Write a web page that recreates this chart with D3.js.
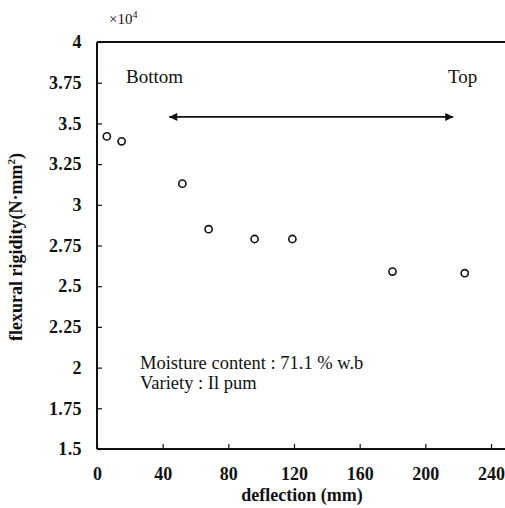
<!DOCTYPE html>
<html><head><meta charset="utf-8">
<script src="https://cdn.jsdelivr.net/npm/d3@7"></script>
<style>
html,body{margin:0;padding:0;background:#fff;}
text{font-family:"Liberation Serif","DejaVu Serif",serif;fill:#111;}
</style></head>
<body><svg id="chart" width="505" height="508"></svg>
<script>
// data
const deflection = [6, 15, 52, 68, 96, 119, 180, 224];
const rigidity = [3.42, 3.39, 3.13, 2.85, 2.79, 2.79, 2.59, 2.58];
const xTicks = [0, 40, 80, 120, 160, 200, 240];
const yTicks = [1.5, 1.75, 2, 2.25, 2.5, 2.75, 3, 3.25, 3.5, 3.75, 4];
const arrowRange = [44, 217];
const arrowLevel = 3.54;
const notes = ["Moisture content : 71.1 % w.b", "Variety : Il pum"];

const svg = d3.select("#chart");
const m = {left: 97, top: 42};
const W = 394, H = 407;
const x = d3.scaleLinear().domain([0, 240]).range([m.left, m.left + W]);
const y = d3.scaleLinear().domain([1.5, 4]).range([m.top + H, m.top]);

// frame lines (left, top, bottom)
svg.append("line").attr("x1", x(0)).attr("x2", x(0)).attr("y1", y(4)).attr("y2", y(1.5))
  .attr("stroke", "#111").attr("stroke-width", 2);
svg.append("line").attr("x1", x(0)).attr("x2", 505).attr("y1", y(4)).attr("y2", y(4))
  .attr("stroke", "#111").attr("stroke-width", 2);
svg.append("line").attr("x1", x(0)).attr("x2", 505).attr("y1", y(1.5)).attr("y2", y(1.5))
  .attr("stroke", "#111").attr("stroke-width", 2);

// x axis
const xAxis = svg.append("g").attr("transform", `translate(0,${y(1.5)})`)
  .call(d3.axisBottom(x).tickValues(xTicks).tickSize(-5).tickPadding(18).tickFormat(d3.format("d")));
xAxis.select(".domain").remove();
xAxis.selectAll(".tick line").attr("stroke", "#111").attr("stroke-width", 1.2);
xAxis.selectAll("text").attr("font-size", 18).attr("font-weight", "bold")
  .attr("font-family", "Liberation Serif").attr("fill", "#111");

// y axis
const yAxis = svg.append("g").attr("transform", `translate(${x(0)},0)`)
  .call(d3.axisLeft(y).tickValues(yTicks).tickSize(-5).tickPadding(15).tickFormat(d => String(d)));
yAxis.select(".domain").remove();
yAxis.selectAll(".tick line").attr("stroke", "#111").attr("stroke-width", 1.2);
yAxis.selectAll("text").attr("font-size", 18).attr("font-weight", "bold").attr("letter-spacing", 0.4)
  .attr("font-family", "Liberation Serif").attr("fill", "#111");

// multiplier
const mult = svg.append("text").attr("x", 109).attr("y", 24).attr("font-size", 15);
mult.append("tspan").text("×10");
mult.append("tspan").attr("font-size", 10).attr("dy", -6).text("4");

// axis titles
svg.append("text").attr("x", 302).attr("y", 501).attr("text-anchor", "middle")
  .attr("font-size", 18).attr("font-weight", "bold").text("deflection (mm)");
const yl = svg.append("text").attr("transform", "translate(22,247) rotate(-90)")
  .attr("text-anchor", "middle").attr("font-size", 18).attr("font-weight", "bold");
yl.append("tspan").text("flexural rigidity(N·mm");
yl.append("tspan").attr("font-size", 11).attr("dy", -7).text("2");
yl.append("tspan").attr("dy", 7).text(")");

// arrow
const defs = svg.append("defs");
defs.append("marker").attr("id", "ah").attr("viewBox", "0 0 10 10").attr("refX", 10).attr("refY", 5)
  .attr("markerWidth", 10).attr("markerHeight", 8).attr("markerUnits", "userSpaceOnUse")
  .attr("orient", "auto-start-reverse")
  .append("path").attr("d", "M0,0 L10,5 L0,10 Z").attr("fill", "#111");
svg.append("line").attr("x1", x(arrowRange[0])).attr("x2", x(arrowRange[1]))
  .attr("y1", y(arrowLevel)).attr("y2", y(arrowLevel))
  .attr("stroke", "#111").attr("stroke-width", 1.6)
  .attr("marker-start", "url(#ah)").attr("marker-end", "url(#ah)");

svg.append("text").attr("x", 126).attr("y", 83).attr("font-size", 19).text("Bottom");
svg.append("text").attr("x", 448).attr("y", 83).attr("font-size", 19).text("Top");

// notes
svg.selectAll(".note").data(notes).enter().append("text").attr("class", "note")
  .attr("x", 140).attr("y", (d, i) => 369 + i * 20).attr("font-size", 18.5).text(d => d);

// points
svg.selectAll(".pt").data(deflection).enter().append("circle").attr("class", "pt")
  .attr("cx", d => x(d)).attr("cy", (d, i) => y(rigidity[i])).attr("r", 3.6)
  .attr("fill", "none").attr("stroke", "#111").attr("stroke-width", 1.6);
</script></body></html>
